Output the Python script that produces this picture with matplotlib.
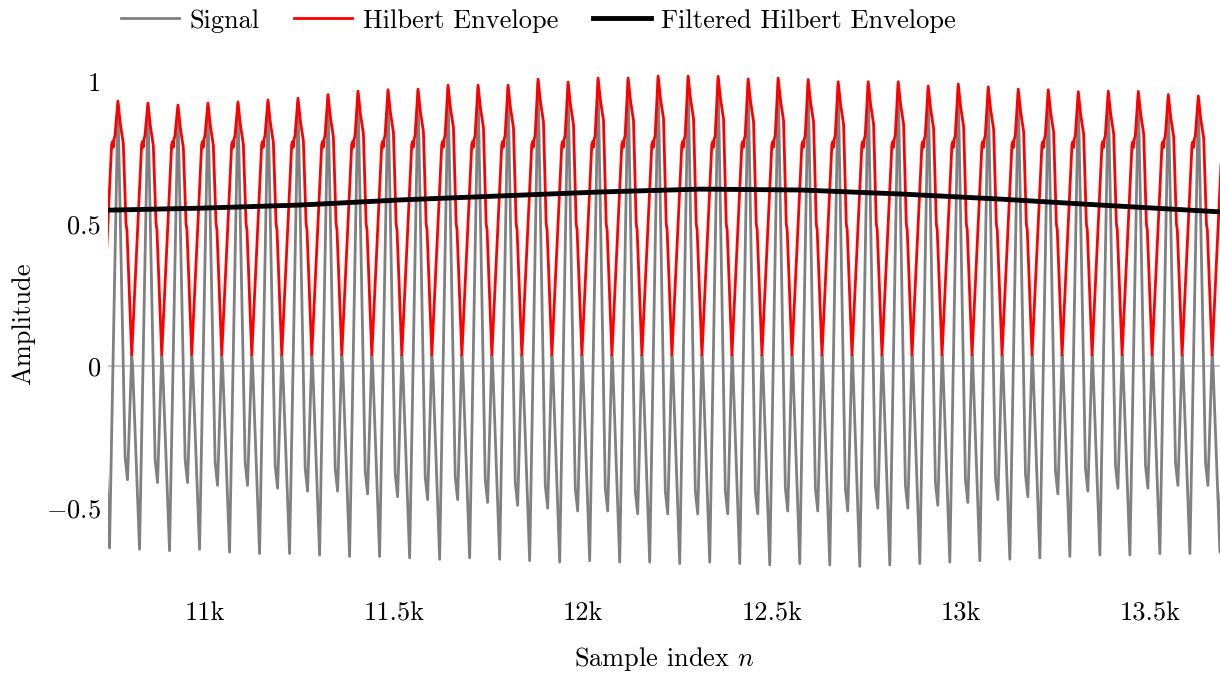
import numpy as np
import matplotlib.pyplot as plt

plt.rcParams['font.family'] = ['cmr10', 'DejaVu Serif']
plt.rcParams['mathtext.fontset'] = 'cm'
plt.rcParams['axes.unicode_minus'] = False

# one cycle of the waveform repeats every ~79.4 samples
first_min = 10747
period = 79.4

# per-cycle values, cycles k = -1 .. 37
peaks = [0.935,
         0.933, 0.926, 0.919, 0.926, 0.930, 0.937, 0.943, 0.956, 0.968, 0.973,
         0.975, 0.989, 0.989, 0.989, 1.010, 1.000, 1.014, 1.014, 1.021, 1.021,
         1.020, 1.011, 1.014, 1.009, 1.001, 1.001, 1.001, 0.986, 0.993, 0.983,
         0.975, 0.973, 0.966, 0.968, 0.967, 0.956, 0.951, 0.950]
mins = [-0.64,
        -0.64, -0.645, -0.65, -0.645, -0.655, -0.66, -0.66, -0.665, -0.67, -0.67,
        -0.675, -0.68, -0.675, -0.68, -0.685, -0.69, -0.685, -0.69, -0.69, -0.695,
        -0.69, -0.695, -0.70, -0.695, -0.70, -0.705, -0.70, -0.695, -0.69, -0.685,
        -0.68, -0.675, -0.67, -0.665, -0.665, -0.66, -0.66, -0.655]
troughs = [-0.40,
           -0.40, -0.41, -0.41, -0.42, -0.42, -0.43, -0.44, -0.44, -0.45, -0.46,
           -0.47, -0.47, -0.48, -0.49, -0.50, -0.51, -0.51, -0.52, -0.52, -0.52,
           -0.52, -0.52, -0.51, -0.51, -0.51, -0.50, -0.50, -0.49, -0.48, -0.47,
           -0.46, -0.45, -0.44, -0.43, -0.43, -0.42, -0.42, -0.42]

# shape of one cycle (fraction of period from the main minimum)
sig_frac = [0.0, 0.28, 0.52, 0.55, 0.60, 0.74, 0.77]
env_frac = [0.05, 0.07, 0.10, 0.12, 0.15, 0.18, 0.28, 0.36, 0.46, 0.55, 0.58, 0.74]
env_shape = [0.74, 0.78, 0.79, 0.77, 0.80, 0.81, None, None, None, 0.50, 0.48, 0.04]

# filtered envelope
filt_n = [10743, 10987, 11251, 11516, 11780, 12045, 12310, 12574, 12839, 13103, 13368, 13685]
filt_v = [0.549, 0.556, 0.567, 0.585, 0.599, 0.613, 0.623, 0.620, 0.606, 0.588, 0.567, 0.543]

xticks = [11000, 11500, 12000, 12500, 13000, 13500]
xticklabels = ['11k', '11.5k', '12k', '12.5k', '13k', '13.5k']
yticks = [-0.5, 0, 0.5, 1]
yticklabels = ['$-0.5$', '0', '0.5', '1']

sig_x, sig_y, env_x, env_y = [], [], [], []
for i, (p, m, t) in enumerate(zip(peaks, mins, troughs)):
    start = first_min + period * (i - 1)
    sig_x += [start + f * period for f in sig_frac]
    sig_y += [m, p - 0.01, t + 0.08, t + 0.05, t, 0.04, 0.0]
    env_x += [start + f * period for f in env_frac]
    vals = list(env_shape)
    vals[6], vals[7], vals[8] = p, p - 0.08, p - 0.15
    env_y += vals

fig = plt.figure(figsize=(12.2, 6.75), dpi=100)
ax = fig.add_axes([108 / 1220, 1 - 582 / 675, 1 - 108 / 1220, 517 / 675])
ax.axhline(0, color='#c8c8c8', lw=1.5, zorder=1)
ax.plot(sig_x, sig_y, color='gray', lw=2, label='Signal', zorder=2)
ax.plot(env_x, env_y, color='red', lw=2, label='Hilbert Envelope', zorder=3)
ax.plot(filt_n, filt_v, color='black', lw=3.5, label='Filtered Hilbert Envelope', zorder=4)

ax.set_xlim(10743, 13685)
ax.set_ylim(-0.76, 1.06)
ax.set_xticks(xticks, xticklabels)
ax.set_yticks(yticks, yticklabels)
ax.tick_params(length=0, labelsize=19)
ax.tick_params(axis='x', pad=14)
ax.tick_params(axis='y', pad=5)
for s in ax.spines.values():
    s.set_visible(False)
ax.set_xlabel('Sample index $n$', fontsize=19, labelpad=14)
ax.set_ylabel('Amplitude', fontsize=19, labelpad=8)

fig.legend(loc='upper left', bbox_to_anchor=(0.080, 1.022), ncol=3, frameon=False,
           fontsize=19, handlelength=2.2, handletextpad=0.4, columnspacing=1.3)
fig.savefig('out.png', dpi=100)
